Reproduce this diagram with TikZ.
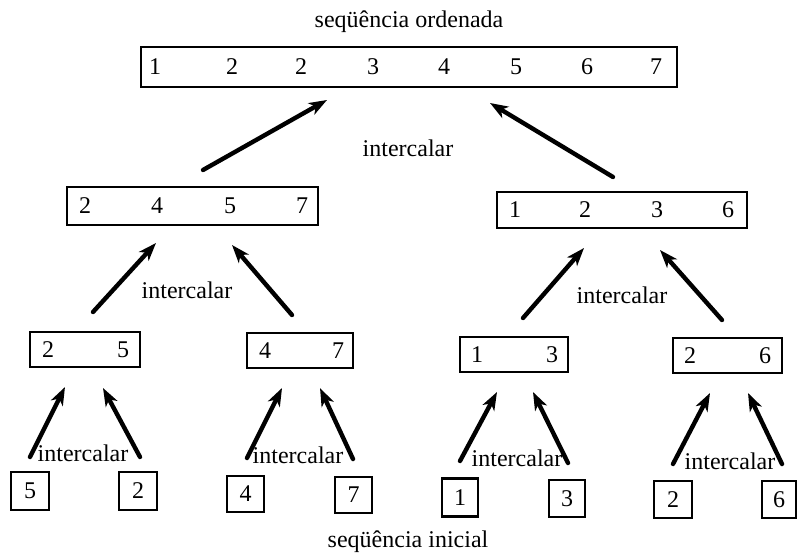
\documentclass[tikz,border=0pt]{standalone}
\usepackage{fontspec}
\setmainfont{Liberation Serif}
\usetikzlibrary{arrows.meta}
\begin{document}
\begin{tikzpicture}[x=1pt,y=-1pt,
  box/.style={draw, line width=2.2pt, inner sep=0pt, outer sep=0pt},
  num/.style={inner sep=0pt, font=\fontsize{24}{28}\selectfont},
  lbl/.style={inner sep=0pt, font=\fontsize{24}{28}\selectfont},
  arr/.style={line width=4.4pt, line cap=round, -{Stealth[length=18pt, width=13pt, inset=5pt]}}]
\useasboundingbox (0,0) rectangle (797,556);
% titles
\node[lbl] (ttop) at (409,22) {seqüência ordenada};
\node[lbl] (tbot) at (408,542) {seqüência inicial};
% top box
\node[box, minimum width=536pt, minimum height=40pt] (top) at (409,67) {};
\foreach \x/\v [count=\i] in {155/1,232/2,301/2,373/3,444/4,516/5,587/6,656/7}
  \node[num] (top\i) at (\x,67) {\v};
% level 2
\node[box, minimum width=251pt, minimum height=38pt] (l2a) at (192.5,206) {};
\foreach \x/\v [count=\i] in {85/2,157/4,230/5,302/7}
  \node[num] (l2a\i) at (\x,206) {\v};
\node[box, minimum width=250pt, minimum height=36pt] (l2b) at (622,210) {};
\foreach \x/\v [count=\i] in {515/1,585/2,657/3,728/6}
  \node[num] (l2b\i) at (\x,210) {\v};
% level 3
\node[box, minimum width=110pt, minimum height=35pt] (ba) at (85,349.5) {};
\node[num] (ba1) at (48,349.5) {2};
\node[num] (ba2) at (123,349.5) {5};
\node[box, minimum width=106pt, minimum height=35pt] (bb) at (300,350.5) {};
\node[num] (bb1) at (265,350.5) {4};
\node[num] (bb2) at (338,350.5) {7};
\node[box, minimum width=108pt, minimum height=35pt] (bc) at (514,354.5) {};
\node[num] (bc1) at (477,354.5) {1};
\node[num] (bc2) at (552,354.5) {3};
\node[box, minimum width=109pt, minimum height=35pt] (bd) at (727.5,355.5) {};
\node[num] (bd1) at (690,355.5) {2};
\node[num] (bd2) at (765,355.5) {6};
% leaves
\node[box, minimum width=38pt, minimum height=38pt] (f1) at (30,491) {};
\node[num] at (f1) {5};
\node[box, minimum width=38pt, minimum height=38pt] (f2) at (138,491) {};
\node[num] at (f2) {2};
\node[box, minimum width=37pt, minimum height=36pt] (f3) at (245.5,494) {};
\node[num] at (f3) {4};
\node[box, minimum width=37pt, minimum height=36pt] (f4) at (353.5,495) {};
\node[num] at (f4) {7};
\node[box, minimum width=36pt, minimum height=38pt] (f5) at (460,497.5) {};
\node[num] at (f5) {1};
\node[box, minimum width=36pt, minimum height=37pt] (f6) at (567,498.5) {};
\node[num] at (f6) {3};
\node[box, minimum width=38pt, minimum height=37pt] (f7) at (673,499.5) {};
\node[num] at (f7) {2};
\node[box, minimum width=34pt, minimum height=37pt] (f8) at (779,499.5) {};
\node[num] at (f8) {6};
% intercalar labels
\node[lbl] (i0) at (408,148) {intercalar};
\node[lbl] (i1) at (187,290) {intercalar};
\node[lbl] (i2) at (622,295) {intercalar};
\node[lbl] (i3) at (83,453) {intercalar};
\node[lbl] (i4) at (298,455) {intercalar};
\node[lbl] (i5) at (517,458) {intercalar};
\node[lbl] (i6) at (730,461) {intercalar};
% arrow end points
\coordinate (a1s) at (203,170); \coordinate (a1e) at (327,100);
\coordinate (a2s) at (613,177); \coordinate (a2e) at (490,103);
\coordinate (b1s) at (93,312);  \coordinate (b1e) at (156,243);
\coordinate (b2s) at (292,315); \coordinate (b2e) at (232,245);
\coordinate (b3s) at (523,318); \coordinate (b3e) at (584,248);
\coordinate (b4s) at (722,320); \coordinate (b4e) at (660,250);
\coordinate (c1s) at (30,457);  \coordinate (c1e) at (65,387);
\coordinate (c2s) at (140,457); \coordinate (c2e) at (103,388);
\coordinate (c3s) at (247,458); \coordinate (c3e) at (282,388);
\coordinate (c4s) at (353,459); \coordinate (c4e) at (320,388);
\coordinate (c5s) at (460,461); \coordinate (c5e) at (497,392);
\coordinate (c6s) at (568,463); \coordinate (c6e) at (533,392);
\coordinate (c7s) at (673,464); \coordinate (c7e) at (710,393);
\coordinate (c8s) at (782,464); \coordinate (c8e) at (748,393);
\foreach \n in {a1,a2,b1,b2,b3,b4,c1,c2,c3,c4,c5,c6,c7,c8}
  \draw[arr] (\n s) -- (\n e);
\end{tikzpicture}
\end{document}
